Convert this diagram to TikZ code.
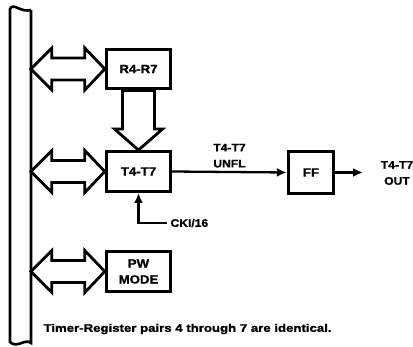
\documentclass[tikz,border=0pt]{standalone}
\usepackage{fontspec}
\setmainfont[FakeStretch=1.1, BoldFeatures={FakeBold=1.2}]{Liberation Sans}
\newfontfamily\notefont[FakeStretch=1.2, BoldFeatures={FakeBold=1.6}]{Liberation Sans}
\usetikzlibrary{calc}
\usetikzlibrary{arrows.meta}

\tikzset{
  block/.style={draw, line width=3.4pt, minimum width=64pt, minimum height=39.5pt,
    align=center, font=\bfseries\fontsize{12}{16}\selectfont},
  hollow/.style={draw, line width=2.8pt, line join=miter},
  sig/.style={line width=2.3pt, -{Latex[length=10pt,width=9pt]}},
  lbl/.style={align=center, font=\bfseries\fontsize{11}{16}\selectfont}
}

% double arrow from the bus to a block
\newcommand{\busarrow}[1]{%
  \draw[hollow] (#1.west) -- ++(-20,-21) -- ++(0,10) -- ++(-33,0) -- ++(0,-10)
    -- ++(-21,21) -- ++(21,21) -- ++(0,-10) -- ++(33,0) -- ++(0,10) -- cycle;}

\begin{document}
\begin{tikzpicture}[x=1pt,y=-1pt]
  \useasboundingbox (0,0) rectangle (413,347);

  % Bus
  \draw[line width=2.6pt] (31,10) -- (31,343)
    .. controls (25,338) and (17,349) .. (10,342) -- (10,9)
    .. controls (13,2) and (21,13) .. (31,10);

  % Blocks
  \node[block] (r) at (138.5,69) {R4-R7};
  \node[block] (t) at (138.5,171.5) {T4-T7};
  \node[block] (p) at (138.5,271.5) {PW\\MODE};
  \node[block, minimum width=45pt, minimum height=42pt] (ff) at (311,172.5) {FF};

  % Bus arrows
  \busarrow{r}
  \busarrow{t}
  \busarrow{p}

  % Register to timer
  \draw[hollow] (t.north) -- ++(-24,-21) -- ++(8,0) -- ($(r.south)+(-16,0)$)
    -- ($(r.south)+(16,0)$) |- ($(t.north)+(24,-21)$) -- cycle;

  % Underflow
  \draw[sig] (t.east) -- (ff.west) node[lbl, midway, above] {T4-T7\\UNFL};

  % Output
  \coordinate (o) at (363,172.5);
  \draw[sig] (ff.east) -- (o);
  \node[lbl] (outl) at (397,173) {T4-T7\\OUT};

  % Clock
  \node[lbl, anchor=west] (cki) at (167,223) {CKI/16};
  \draw[sig] (cki.west) -| (t.south);

  % Note
  \node[font=\notefont\bfseries\fontsize{11}{13}\selectfont, anchor=west] (note)
    at (40,329) {Timer-Register pairs 4 through 7 are identical.};
\end{tikzpicture}
\end{document}
